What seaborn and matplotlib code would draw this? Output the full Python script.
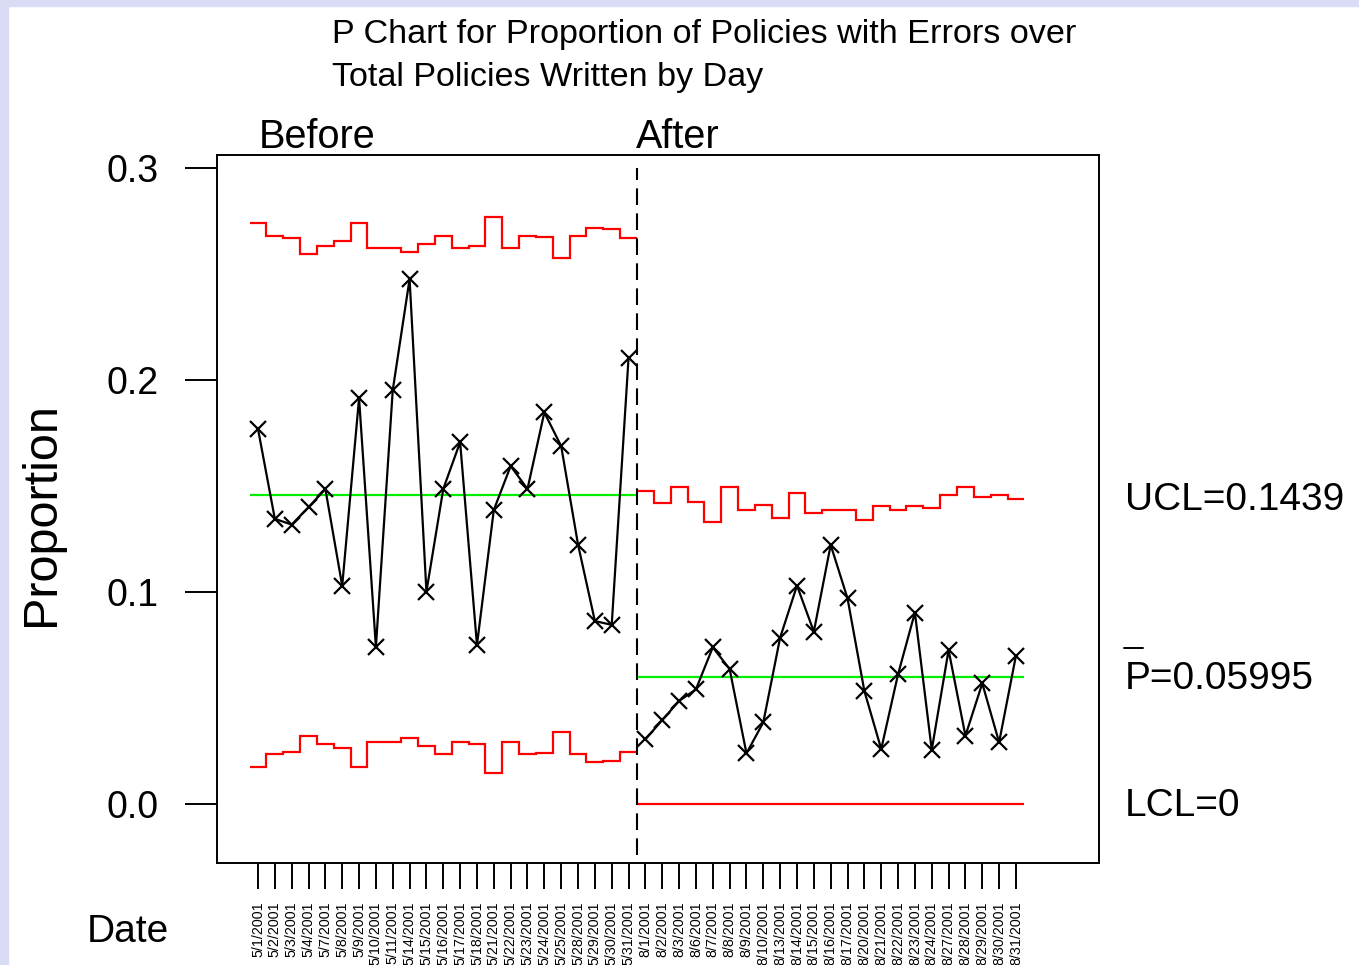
import numpy as np
import pandas as pd
import matplotlib
matplotlib.use("Agg")
import matplotlib.pyplot as plt
import seaborn as sns
from matplotlib.lines import Line2D
from matplotlib.patches import Rectangle

# ---------------- data ----------------
dates_before = ["5/1/2001", "5/2/2001", "5/3/2001", "5/4/2001", "5/7/2001", "5/8/2001",
                "5/9/2001", "5/10/2001", "5/11/2001", "5/14/2001", "5/15/2001", "5/16/2001",
                "5/17/2001", "5/18/2001", "5/21/2001", "5/22/2001", "5/23/2001", "5/24/2001",
                "5/25/2001", "5/28/2001", "5/29/2001", "5/30/2001", "5/31/2001"]
dates_after = ["8/1/2001", "8/2/2001", "8/3/2001", "8/6/2001", "8/7/2001", "8/8/2001",
               "8/9/2001", "8/10/2001", "8/13/2001", "8/14/2001", "8/15/2001", "8/16/2001",
               "8/17/2001", "8/20/2001", "8/21/2001", "8/22/2001", "8/23/2001", "8/24/2001",
               "8/27/2001", "8/28/2001", "8/29/2001", "8/30/2001", "8/31/2001"]

prop_before = [0.1769, 0.1345, 0.1318, 0.1400, 0.1486, 0.1029, 0.1914, 0.0741, 0.1952,
               0.2476, 0.1002, 0.1486, 0.1707, 0.0750, 0.1387, 0.1594, 0.1486, 0.1847,
               0.1688, 0.1224, 0.0863, 0.0845, 0.2105]
prop_after = [0.0305, 0.0396, 0.0486, 0.0541, 0.0739, 0.0637, 0.0239, 0.0385, 0.0785,
              0.1030, 0.0813, 0.1222, 0.0970, 0.0533, 0.0259, 0.0612, 0.0903, 0.0255,
              0.0726, 0.0322, 0.0569, 0.0291, 0.0700]

ucl_before = [0.2741, 0.2681, 0.2672, 0.2593, 0.2633, 0.2654, 0.2741, 0.2624, 0.2624,
              0.2605, 0.2642, 0.2681, 0.2624, 0.2633, 0.2768, 0.2624, 0.2681, 0.2674,
              0.2575, 0.2681, 0.2719, 0.2714, 0.2672]
lcl_before = [0.0175, 0.0235, 0.0244, 0.0323, 0.0283, 0.0262, 0.0175, 0.0292, 0.0292,
              0.0311, 0.0274, 0.0235, 0.0292, 0.0283, 0.0148, 0.0292, 0.0235, 0.0242,
              0.0341, 0.0235, 0.0197, 0.0202, 0.0244]
ucl_after = [0.1476, 0.1418, 0.1497, 0.1426, 0.1332, 0.1497, 0.1387, 0.1410, 0.1348,
             0.1465, 0.1371, 0.1387, 0.1387, 0.1340, 0.1407, 0.1387, 0.1407, 0.1398,
             0.1458, 0.1497, 0.1447, 0.1458, 0.1439]
lcl_after = [0.0] * 23

cl_before = 0.1458
cl_after = 0.05995

phase_labels = ["Before", "After"]
y_ticks = [0.0, 0.1, 0.2, 0.3]
y_ticklabels = ["0.0", "0.1", "0.2", "0.3"]

# ---------------- figure ----------------
sns.set_style("white")
plt.rcParams['font.family'] = ['Liberation Sans', 'DejaVu Sans']
plt.rcParams['text.color'] = 'black'
plt.rcParams['xtick.color'] = 'black'
plt.rcParams['ytick.color'] = 'black'
plt.rcParams['axes.labelcolor'] = 'black'

W, H = 1359, 965
fig = plt.figure(figsize=(W / 100, H / 100), dpi=100)
fig.patch.set_facecolor("white")

# lavender slide border
fig.add_artist(Rectangle((0, 0), 8 / W, 1, transform=fig.transFigure,
                         color="#dadcf6", zorder=0))
fig.add_artist(Rectangle((0, 1 - 6 / H), 1, 6 / H, transform=fig.transFigure,
                         color="#dadcf6", zorder=0))

ax = fig.add_axes([217 / W, 1 - 863 / H, (1099 - 217) / W, (863 - 155) / H])

nb, na = len(dates_before), len(dates_after)
x_before = np.arange(nb)
x_after = np.arange(nb, nb + na)

df = pd.DataFrame({
    "idx": np.concatenate([x_before, x_after]),
    "prop": prop_before + prop_after,
    "phase": ["Before"] * nb + ["After"] * na,
})

# control limits (stairs centered on points)
edges_b = np.arange(nb + 1) - 0.5
edges_a = np.arange(nb, nb + na + 1) - 0.5
for vals, edges in [(ucl_before, edges_b), (lcl_before, edges_b),
                    (ucl_after, edges_a), (lcl_after, edges_a)]:
    ax.stairs(vals, edges, baseline=None, color="#ff0000", linewidth=1.6, zorder=2)

# center lines
ax.hlines(cl_before, edges_b[0], edges_b[-1], color="#00ee00", linewidth=1.6, zorder=2)
ax.hlines(cl_after, edges_a[0], edges_a[-1], color="#00ee00", linewidth=1.6, zorder=2)

# data
sns.lineplot(data=df, x="idx", y="prop", hue="phase",
             palette={"Before": "black", "After": "black"}, legend=False,
             marker="x", markersize=12, markeredgewidth=1.6, markeredgecolor="black",
             linewidth=1.6, ax=ax, zorder=3)

# phase divider
ax.vlines(nb - 0.5, -0.024, 0.3, color="black", linewidth=1.5,
          linestyles=(0, (8, 4)), zorder=4)

ax.set_xlim(-2.434, 49.93)
ax.set_ylim(-0.02783, 0.30613)

ax.set_yticks(y_ticks)
ax.set_yticklabels(y_ticklabels)
ax.set_xticks(np.arange(nb + na))
ax.set_xticklabels(dates_before + dates_after, rotation=90, fontsize=10.3)
ax.tick_params(axis="y", direction="out", length=23, width=1.4, pad=19,
               labelsize=27, left=True, color="black", labelcolor="black")
ax.tick_params(axis="x", direction="out", length=18.5, width=1.4, pad=9,
               bottom=True, color="black", labelcolor="black")
for s in ax.spines.values():
    s.set_color("black")
    s.set_linewidth(1.4)
ax.set_xlabel("")
ax.set_ylabel("")

# texts
fig.text(332 / W, 1 - 43 / H, "P Chart for Proportion of Policies with Errors over",
         fontsize=24.6, ha="left", va="baseline", color="black")
fig.text(332 / W, 1 - 86 / H, "Total Policies Written by Day",
         fontsize=24.6, ha="left", va="baseline", color="black")
fig.text(259 / W, 1 - 148 / H, phase_labels[0], fontsize=28.5, ha="left",
         va="baseline", color="black")
fig.text(636 / W, 1 - 148 / H, phase_labels[1], fontsize=28.5, ha="left",
         va="baseline", color="black")

fig.text(1125 / W, 1 - 510 / H, f"UCL={ucl_after[-1]:.4f}", fontsize=28,
         ha="left", va="baseline", color="black")
fig.text(1125 / W, 1 - 689 / H, f"P={cl_after:.5f}", fontsize=28,
         ha="left", va="baseline", color="black")
fig.add_artist(Line2D([1124 / W, 1143 / W], [1 - 648 / H, 1 - 648 / H],
                      transform=fig.transFigure, color="black", linewidth=1.4))
fig.text(1125 / W, 1 - 816 / H, "LCL=0", fontsize=28, ha="left", va="baseline",
         color="black")

fig.text(42 / W, 1 - 514 / H, "Proportion", fontsize=35, rotation=90,
         ha="center", va="center", color="black")
fig.text(87 / W, 1 - 942 / H, "Date", fontsize=28, ha="left", va="baseline",
         color="black")

fig.savefig("out.png", dpi=100)
